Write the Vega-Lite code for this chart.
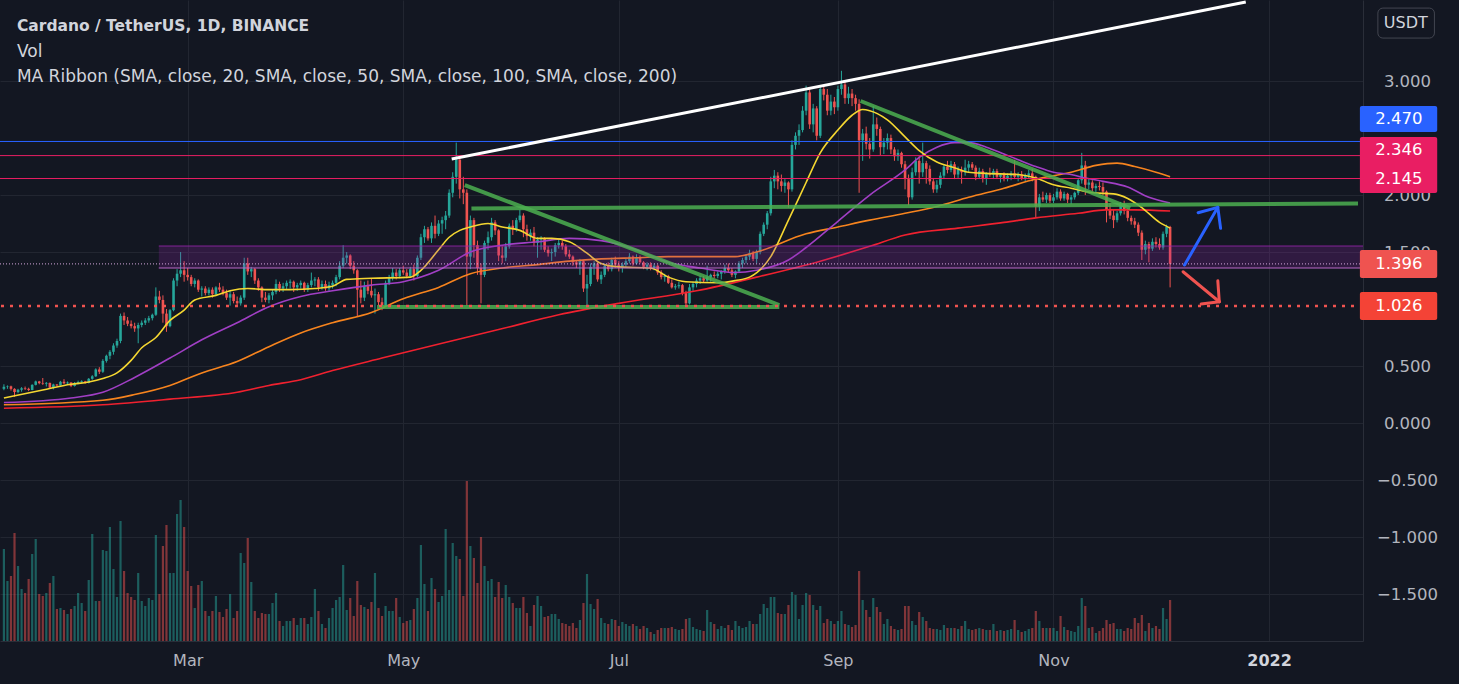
{
  "$schema": "https://vega.github.io/schema/vega-lite/v6.json",
  "width": 1363,
  "height": 641,
  "autosize": {"type": "none"},
  "padding": {"left": 0, "top": 0, "right": 96, "bottom": 43},
  "background": "#131722",
  "config": {"view": {"stroke": null}, "font": "DejaVu Sans"},
  "data": {
    "values": "d,o,h,l,c,v\n2021-01-08,.300,.340,.288,.318,1840\n2021-01-09,.318,.330,.300,.322,1200\n2021-01-10,.322,.328,.285,.300,1300\n2021-01-11,.300,.305,.230,.272,2160\n2021-01-12,.272,.300,.262,.292,1500\n2021-01-13,.292,.315,.275,.305,1040\n2021-01-14,.305,.320,.290,.300,960\n2021-01-15,.300,.310,.280,.290,1240\n2021-01-16,.290,.340,.288,.335,1740\n2021-01-17,.335,.372,.330,.365,2040\n2021-01-18,.365,.370,.340,.350,940\n2021-01-19,.350,.395,.335,.345,900\n2021-01-20,.345,.360,.320,.352,960\n2021-01-21,.352,.355,.300,.310,1160\n2021-01-22,.310,.345,.295,.338,1300\n2021-01-23,.338,.342,.322,.330,640\n2021-01-24,.330,.370,.328,.362,660\n2021-01-25,.362,.385,.340,.348,620\n2021-01-26,.348,.365,.335,.356,540\n2021-01-27,.356,.358,.315,.325,640\n2021-01-28,.325,.360,.320,.352,700\n2021-01-29,.352,.372,.340,.360,960\n2021-01-30,.360,.375,.350,.366,760\n2021-01-31,.366,.370,.345,.352,600\n2021-02-01,.352,.395,.348,.388,1220\n2021-02-02,.388,.420,.380,.410,2140\n2021-02-03,.410,.480,.405,.470,800\n2021-02-04,.470,.490,.430,.450,800\n2021-02-05,.450,.560,.440,.545,1820\n2021-02-06,.545,.600,.530,.590,1800\n2021-02-07,.590,.640,.560,.625,2280\n2021-02-08,.625,.700,.600,.680,1440\n2021-02-09,.680,.740,.660,.720,880\n2021-02-10,.720,.960,.700,.940,2400\n2021-02-11,.940,.970,.860,.900,1400\n2021-02-12,.900,.930,.850,.870,960\n2021-02-13,.870,.900,.830,.850,880\n2021-02-14,.850,.880,.800,.830,820\n2021-02-15,.830,.880,.700,.860,1360\n2021-02-16,.860,.900,.840,.880,800\n2021-02-17,.880,.920,.860,.900,700\n2021-02-18,.900,.940,.880,.920,860\n2021-02-19,.920,.960,.900,.950,820\n2021-02-20,.950,1.19,.940,1.11,2120\n2021-02-21,1.11,1.16,1.05,1.08,940\n2021-02-22,1.08,1.12,.880,.960,1900\n2021-02-23,.960,1.00,.800,.850,2320\n2021-02-24,.850,1.00,.840,.990,1360\n2021-02-25,.990,1.27,.980,1.25,1360\n2021-02-26,1.25,1.35,1.20,1.31,2540\n2021-02-27,1.31,1.50,1.28,1.34,2820\n2021-02-28,1.34,1.42,1.24,1.30,2280\n2021-03-01,1.30,1.36,1.25,1.28,1400\n2021-03-02,1.28,1.30,1.20,1.22,1100\n2021-03-03,1.22,1.27,1.19,1.25,660\n2021-03-04,1.25,1.26,1.15,1.17,1120\n2021-03-05,1.17,1.20,1.11,1.18,1200\n2021-03-06,1.18,1.20,1.12,1.14,600\n2021-03-07,1.14,1.19,1.12,1.17,500\n2021-03-08,1.17,1.19,1.10,1.13,600\n2021-03-09,1.13,1.20,1.12,1.19,900\n2021-03-10,1.19,1.23,1.15,1.17,580\n2021-03-11,1.17,1.20,1.12,1.14,480\n2021-03-12,1.14,1.17,1.08,1.10,640\n2021-03-13,1.10,1.16,1.03,1.13,940\n2021-03-14,1.13,1.15,1.05,1.07,460\n2021-03-15,1.07,1.11,1.03,1.05,600\n2021-03-16,1.05,1.12,1.03,1.10,1760\n2021-03-17,1.10,1.45,1.08,1.40,1560\n2021-03-18,1.40,1.45,1.30,1.33,2060\n2021-03-19,1.33,1.37,1.28,1.35,1180\n2021-03-20,1.35,1.36,1.22,1.25,600\n2021-03-21,1.25,1.27,1.16,1.19,460\n2021-03-22,1.19,1.20,1.06,1.10,560\n2021-03-23,1.10,1.15,1.06,1.08,540\n2021-03-24,1.08,1.14,1.05,1.12,540\n2021-03-25,1.12,1.17,1.08,1.15,760\n2021-03-26,1.15,1.26,1.13,1.22,960\n2021-03-27,1.22,1.24,1.15,1.18,400\n2021-03-28,1.18,1.23,1.15,1.20,300\n2021-03-29,1.20,1.25,1.17,1.23,400\n2021-03-30,1.23,1.26,1.18,1.24,400\n2021-03-31,1.24,1.25,1.15,1.19,460\n2021-04-01,1.19,1.23,1.16,1.21,320\n2021-04-02,1.21,1.25,1.18,1.23,460\n2021-04-03,1.23,1.24,1.15,1.17,460\n2021-04-04,1.17,1.23,1.15,1.21,340\n2021-04-05,1.21,1.32,1.19,1.25,480\n2021-04-06,1.25,1.28,1.20,1.26,1040\n2021-04-07,1.26,1.28,1.16,1.19,600\n2021-04-08,1.19,1.25,1.17,1.22,340\n2021-04-09,1.22,1.25,1.16,1.18,260\n2021-04-10,1.18,1.24,1.15,1.21,460\n2021-04-11,1.21,1.25,1.18,1.23,660\n2021-04-12,1.23,1.30,1.20,1.28,820\n2021-04-13,1.28,1.42,1.26,1.38,880\n2021-04-14,1.38,1.56,1.36,1.45,1520\n2021-04-15,1.45,1.50,1.40,1.47,620\n2021-04-16,1.47,1.48,1.35,1.38,860\n2021-04-17,1.38,1.42,1.31,1.34,500\n2021-04-18,1.34,1.35,.930,1.17,1200\n2021-04-19,1.17,1.25,1.05,1.10,720\n2021-04-20,1.10,1.24,1.07,1.20,680\n2021-04-21,1.20,1.25,1.13,1.16,640\n2021-04-22,1.16,1.27,1.10,1.12,780\n2021-04-23,1.12,1.18,.960,1.13,1360\n2021-04-24,1.13,1.15,1.03,1.06,660\n2021-04-25,1.06,1.10,.990,1.03,500\n2021-04-26,1.03,1.25,1.02,1.23,700\n2021-04-27,1.23,1.30,1.21,1.28,600\n2021-04-28,1.28,1.36,1.25,1.32,600\n2021-04-29,1.32,1.35,1.26,1.29,860\n2021-04-30,1.29,1.36,1.27,1.34,480\n2021-05-01,1.34,1.38,1.30,1.32,360\n2021-05-02,1.32,1.35,1.27,1.29,400\n2021-05-03,1.29,1.37,1.28,1.35,420\n2021-05-04,1.35,1.39,1.25,1.29,640\n2021-05-05,1.29,1.47,1.28,1.45,860\n2021-05-06,1.45,1.66,1.43,1.63,1920\n2021-05-07,1.63,1.73,1.58,1.70,1140\n2021-05-08,1.70,1.72,1.60,1.62,600\n2021-05-09,1.62,1.76,1.58,1.73,1260\n2021-05-10,1.73,1.82,1.62,1.66,1040\n2021-05-11,1.66,1.78,1.64,1.75,780\n2021-05-12,1.75,1.81,1.66,1.78,900\n2021-05-13,1.78,1.86,1.70,1.82,2240\n2021-05-14,1.82,2.05,1.80,2.02,1020\n2021-05-15,2.02,2.20,1.98,2.16,1960\n2021-05-16,2.16,2.46,2.10,2.31,1700\n2021-05-17,2.31,2.33,1.97,2.05,1640\n2021-05-18,2.05,2.16,1.92,2.02,900\n2021-05-19,2.02,2.05,1.03,1.46,3200\n2021-05-20,1.46,1.82,1.35,1.78,1900\n2021-05-21,1.78,1.80,1.45,1.56,1660\n2021-05-22,1.56,1.60,1.30,1.36,1160\n2021-05-23,1.36,1.40,1.05,1.30,2080\n2021-05-24,1.30,1.60,1.28,1.58,1500\n2021-05-25,1.58,1.68,1.52,1.63,1200\n2021-05-26,1.63,1.80,1.60,1.76,1240\n2021-05-27,1.76,1.78,1.65,1.69,880\n2021-05-28,1.69,1.70,1.42,1.47,1180\n2021-05-29,1.47,1.55,1.40,1.45,860\n2021-05-30,1.45,1.58,1.42,1.55,1120\n2021-05-31,1.55,1.75,1.53,1.73,880\n2021-06-01,1.73,1.78,1.65,1.70,760\n2021-06-02,1.70,1.80,1.68,1.78,660\n2021-06-03,1.78,1.87,1.76,1.82,660\n2021-06-04,1.82,1.84,1.63,1.70,880\n2021-06-05,1.70,1.74,1.60,1.64,560\n2021-06-06,1.64,1.70,1.60,1.67,300\n2021-06-07,1.67,1.72,1.55,1.58,720\n2021-06-08,1.58,1.63,1.45,1.61,900\n2021-06-09,1.61,1.64,1.52,1.62,700\n2021-06-10,1.62,1.63,1.50,1.52,480\n2021-06-11,1.52,1.55,1.46,1.49,500\n2021-06-12,1.49,1.53,1.42,1.50,540\n2021-06-13,1.50,1.58,1.46,1.56,540\n2021-06-14,1.56,1.61,1.53,1.58,440\n2021-06-15,1.58,1.60,1.52,1.55,360\n2021-06-16,1.55,1.57,1.46,1.48,340\n2021-06-17,1.48,1.52,1.44,1.46,300\n2021-06-18,1.46,1.47,1.38,1.41,360\n2021-06-19,1.41,1.43,1.36,1.39,260\n2021-06-20,1.39,1.44,1.30,1.42,420\n2021-06-21,1.42,1.43,1.15,1.18,760\n2021-06-22,1.18,1.30,1.01,1.22,1340\n2021-06-23,1.22,1.40,1.20,1.37,740\n2021-06-24,1.37,1.42,1.30,1.40,640\n2021-06-25,1.40,1.41,1.24,1.26,840\n2021-06-26,1.26,1.33,1.22,1.30,460\n2021-06-27,1.30,1.40,1.28,1.38,360\n2021-06-28,1.38,1.41,1.33,1.35,340\n2021-06-29,1.35,1.45,1.33,1.43,440\n2021-06-30,1.43,1.46,1.36,1.39,420\n2021-07-01,1.39,1.42,1.33,1.36,300\n2021-07-02,1.36,1.41,1.32,1.39,380\n2021-07-03,1.39,1.44,1.37,1.42,340\n2021-07-04,1.42,1.49,1.40,1.46,300\n2021-07-05,1.46,1.47,1.38,1.40,340\n2021-07-06,1.40,1.48,1.39,1.45,300\n2021-07-07,1.45,1.47,1.40,1.41,240\n2021-07-08,1.41,1.42,1.35,1.37,300\n2021-07-09,1.37,1.41,1.34,1.39,260\n2021-07-10,1.39,1.41,1.34,1.36,180\n2021-07-11,1.36,1.40,1.34,1.38,140\n2021-07-12,1.38,1.39,1.30,1.32,220\n2021-07-13,1.32,1.34,1.26,1.28,260\n2021-07-14,1.28,1.31,1.24,1.29,260\n2021-07-15,1.29,1.30,1.22,1.23,260\n2021-07-16,1.23,1.26,1.18,1.19,280\n2021-07-17,1.19,1.22,1.17,1.20,240\n2021-07-18,1.20,1.24,1.18,1.21,220\n2021-07-19,1.21,1.22,1.12,1.14,240\n2021-07-20,1.14,1.16,1.02,1.05,440\n2021-07-21,1.05,1.22,1.04,1.19,460\n2021-07-22,1.19,1.24,1.16,1.22,280\n2021-07-23,1.22,1.27,1.19,1.25,240\n2021-07-24,1.25,1.29,1.22,1.27,220\n2021-07-25,1.27,1.29,1.23,1.25,200\n2021-07-26,1.25,1.38,1.24,1.28,620\n2021-07-27,1.28,1.31,1.24,1.30,380\n2021-07-28,1.30,1.33,1.27,1.29,340\n2021-07-29,1.29,1.33,1.27,1.31,240\n2021-07-30,1.31,1.34,1.26,1.33,300\n2021-07-31,1.33,1.39,1.31,1.36,260\n2021-08-01,1.36,1.40,1.32,1.34,320\n2021-08-02,1.34,1.36,1.28,1.30,220\n2021-08-03,1.30,1.34,1.27,1.33,400\n2021-08-04,1.33,1.42,1.32,1.40,300\n2021-08-05,1.40,1.45,1.36,1.43,260\n2021-08-06,1.43,1.48,1.40,1.46,280\n2021-08-07,1.46,1.52,1.43,1.49,400\n2021-08-08,1.49,1.51,1.42,1.44,340\n2021-08-09,1.44,1.52,1.40,1.50,340\n2021-08-10,1.50,1.68,1.48,1.66,540\n2021-08-11,1.66,1.76,1.64,1.74,740\n2021-08-12,1.74,1.86,1.70,1.84,660\n2021-08-13,1.84,2.16,1.82,2.12,880\n2021-08-14,2.12,2.22,2.06,2.17,880\n2021-08-15,2.17,2.20,2.05,2.12,560\n2021-08-16,2.12,2.18,2.03,2.08,540\n2021-08-17,2.08,2.14,2.02,2.11,540\n2021-08-18,2.11,2.12,1.89,2.05,720\n2021-08-19,2.05,2.48,2.03,2.44,980\n2021-08-20,2.44,2.55,2.40,2.52,920\n2021-08-21,2.52,2.62,2.44,2.57,440\n2021-08-22,2.57,2.78,2.55,2.74,720\n2021-08-23,2.74,2.96,2.70,2.90,960\n2021-08-24,2.90,2.94,2.58,2.62,920\n2021-08-25,2.62,2.80,2.55,2.76,720\n2021-08-26,2.76,2.78,2.48,2.52,620\n2021-08-27,2.52,2.96,2.50,2.93,700\n2021-08-28,2.93,2.96,2.83,2.88,360\n2021-08-29,2.88,2.93,2.70,2.74,440\n2021-08-30,2.74,2.88,2.70,2.82,400\n2021-08-31,2.82,2.86,2.71,2.77,340\n2021-09-01,2.77,2.96,2.74,2.93,400\n2021-09-02,2.93,3.09,2.88,2.97,600\n2021-09-03,2.97,3.00,2.80,2.85,340\n2021-09-04,2.85,2.95,2.80,2.89,320\n2021-09-05,2.89,2.93,2.78,2.85,280\n2021-09-06,2.85,2.88,2.74,2.80,320\n2021-09-07,2.80,2.84,2.02,2.48,1400\n2021-09-08,2.48,2.58,2.30,2.54,820\n2021-09-09,2.54,2.60,2.40,2.45,620\n2021-09-10,2.45,2.50,2.32,2.40,480\n2021-09-11,2.40,2.78,2.38,2.62,860\n2021-09-12,2.62,2.68,2.52,2.58,680\n2021-09-13,2.58,2.60,2.35,2.42,580\n2021-09-14,2.42,2.50,2.36,2.46,340\n2021-09-15,2.46,2.54,2.40,2.50,440\n2021-09-16,2.50,2.53,2.36,2.40,300\n2021-09-17,2.40,2.42,2.30,2.34,240\n2021-09-18,2.34,2.40,2.30,2.37,220\n2021-09-19,2.37,2.38,2.24,2.27,240\n2021-09-20,2.27,2.30,2.05,2.14,700\n2021-09-21,2.14,2.18,1.91,1.98,700\n2021-09-22,1.98,2.24,1.96,2.20,400\n2021-09-23,2.20,2.33,2.17,2.30,320\n2021-09-24,2.30,2.34,2.10,2.20,580\n2021-09-25,2.20,2.46,2.16,2.28,480\n2021-09-26,2.28,2.30,2.10,2.23,400\n2021-09-27,2.23,2.26,2.09,2.12,260\n2021-09-28,2.12,2.15,2.02,2.05,240\n2021-09-29,2.05,2.13,2.02,2.09,240\n2021-09-30,2.09,2.20,2.06,2.17,220\n2021-10-01,2.17,2.27,2.14,2.25,320\n2021-10-02,2.25,2.30,2.19,2.22,260\n2021-10-03,2.22,2.30,2.20,2.27,260\n2021-10-04,2.27,2.29,2.14,2.18,260\n2021-10-05,2.18,2.25,2.15,2.22,240\n2021-10-06,2.22,2.25,2.10,2.20,300\n2021-10-07,2.20,2.31,2.17,2.24,400\n2021-10-08,2.24,2.30,2.20,2.27,240\n2021-10-09,2.27,2.29,2.22,2.24,220\n2021-10-10,2.24,2.26,2.13,2.16,240\n2021-10-11,2.16,2.24,2.14,2.21,260\n2021-10-12,2.21,2.23,2.11,2.15,240\n2021-10-13,2.15,2.20,2.09,2.19,220\n2021-10-14,2.19,2.24,2.16,2.18,220\n2021-10-15,2.18,2.23,2.14,2.21,340\n2021-10-16,2.21,2.23,2.14,2.16,200\n2021-10-17,2.16,2.19,2.11,2.18,220\n2021-10-18,2.18,2.20,2.12,2.14,200\n2021-10-19,2.14,2.19,2.12,2.17,220\n2021-10-20,2.17,2.21,2.13,2.19,240\n2021-10-21,2.19,2.31,2.14,2.16,420\n2021-10-22,2.16,2.20,2.12,2.18,220\n2021-10-23,2.18,2.21,2.13,2.15,180\n2021-10-24,2.15,2.19,2.12,2.17,200\n2021-10-25,2.17,2.22,2.14,2.19,240\n2021-10-26,2.19,2.23,2.12,2.16,260\n2021-10-27,2.16,2.17,1.80,1.90,600\n2021-10-28,1.90,2.01,1.86,1.98,400\n2021-10-29,1.98,2.03,1.94,1.96,260\n2021-10-30,1.96,2.02,1.93,2.00,260\n2021-10-31,2.00,2.02,1.93,1.95,260\n2021-11-01,1.95,2.01,1.93,1.98,260\n2021-11-02,1.98,2.06,1.96,2.03,200\n2021-11-03,2.03,2.05,1.95,1.97,500\n2021-11-04,1.97,2.03,1.95,2.01,280\n2021-11-05,2.01,2.02,1.93,1.96,220\n2021-11-06,1.96,2.00,1.92,1.98,200\n2021-11-07,1.98,2.03,1.96,2.02,180\n2021-11-08,2.02,2.15,2.00,2.13,300\n2021-11-09,2.13,2.37,2.10,2.26,860\n2021-11-10,2.26,2.30,2.00,2.09,700\n2021-11-11,2.09,2.14,2.05,2.11,260\n2021-11-12,2.11,2.13,2.03,2.06,280\n2021-11-13,2.06,2.10,2.02,2.08,160\n2021-11-14,2.08,2.12,2.04,2.07,200\n2021-11-15,2.07,2.11,2.00,2.03,260\n2021-11-16,2.03,2.04,1.76,1.87,420\n2021-11-17,1.87,1.93,1.79,1.82,340\n2021-11-18,1.82,1.87,1.71,1.78,360\n2021-11-19,1.78,1.86,1.76,1.84,240\n2021-11-20,1.84,1.94,1.82,1.92,240\n2021-11-21,1.92,1.95,1.83,1.86,200\n2021-11-22,1.86,1.88,1.77,1.80,260\n2021-11-23,1.80,1.82,1.74,1.77,240\n2021-11-24,1.77,1.80,1.71,1.74,460\n2021-11-25,1.74,1.76,1.64,1.67,360\n2021-11-26,1.67,1.69,1.43,1.52,520\n2021-11-27,1.52,1.60,1.48,1.57,200\n2021-11-28,1.57,1.59,1.41,1.53,360\n2021-11-29,1.53,1.62,1.51,1.59,260\n2021-11-30,1.59,1.63,1.54,1.57,300\n2021-12-01,1.57,1.62,1.52,1.54,240\n2021-12-02,1.54,1.68,1.52,1.66,660\n2021-12-03,1.66,1.74,1.63,1.72,440\n2021-12-04,1.72,1.73,1.19,1.396,820",
    "format": {"type": "csv", "parse": {"d": "date", "o": "number", "h": "number", "l": "number", "c": "number", "v": "number"}}
  },
  "layer": [
    {
      "mark": {"type": "bar", "width": 2.2, "opacity": 0.5},
      "encoding": {
        "x": {
          "field": "d", "type": "temporal",
          "scale": {"type": "utc", "domain": [{"year": 2021, "month": 1, "date": 8, "hours": 7, "minutes": 25, "utc": true}, {"year": 2022, "month": 1, "date": 26, "hours": 4, "minutes": 5, "utc": true}]},
          "axis": {
            "values": [{"year": 2021, "month": 3, "date": 1, "utc": true}, {"year": 2021, "month": 5, "date": 1, "utc": true}, {"year": 2021, "month": 7, "date": 1, "utc": true}, {"year": 2021, "month": 9, "date": 1, "utc": true}, {"year": 2021, "month": 11, "date": 1, "utc": true}, {"year": 2022, "month": 1, "date": 1, "utc": true}],
            "labelExpr": "utcmonth(datum.value) == 0 ? utcFormat(datum.value, '%Y') : utcFormat(datum.value, '%b')",
            "title": null, "ticks": false, "tickSize": 0, "labelPadding": 11,
            "labelFontSize": 16,
            "labelColor": {"condition": {"test": "utcmonth(datum.value) == 0", "value": "#d1d4dc"}, "value": "#b2b5be"},
            "labelFontWeight": {"condition": {"test": "utcmonth(datum.value) == 0", "value": "bold"}, "value": "normal"},
            "labelFlush": false, "labelOverlap": false,
            "grid": true, "gridColor": "#222631", "domainColor": "#2a2e39"
          }
        },
        "y": {"field": "v", "type": "quantitative", "scale": {"domain": [0, 12820], "nice": false}, "axis": null},
        "color": {"condition": {"test": "datum.c >= datum.o", "value": "#26a69a"}, "value": "#ef5350"}
      }
    },
    {
      "layer": [
        {
          "mark": {"type": "rule", "strokeWidth": 1},
          "encoding": {
            "x": {"field": "d", "type": "temporal"},
            "y": {
              "field": "l", "type": "quantitative",
              "scale": {"domain": [-1.912, 3.711], "nice": false, "zero": false},
              "axis": {
                "orient": "right", "values": [-1.5, -1, -0.5, 0, 0.5, 1.5, 2, 3],
                "format": ".3f", "title": null, "ticks": false, "tickSize": 0,
                "labelAlign": "center", "labelBaseline": "middle", "labelPadding": 44,
                "labelFontSize": 16.5, "labelColor": "#b2b5be",
                "labelFlush": false, "labelOverlap": false,
                "grid": true, "gridColor": "#222631", "domainColor": "#2a2e39"
              }
            },
            "y2": {"field": "h"},
            "color": {"condition": {"test": "datum.c >= datum.o", "value": "#26a69a"}, "value": "#ef5350"}
          }
        },
        {
          "mark": {"type": "bar", "width": 2.6},
          "encoding": {
            "x": {"field": "d", "type": "temporal"},
            "y": {"field": "o", "type": "quantitative"},
            "y2": {"field": "c"},
            "color": {"condition": {"test": "datum.c >= datum.o", "value": "#26a69a"}, "value": "#ef5350"}
          }
        },
        {
          "data": {
            "values": "s,d,p\nMA200,2021-01-08,0.13\nMA200,2021-02-05,0.16\nMA200,2021-02-24,0.21\nMA200,2021-03-15,0.27\nMA200,2021-03-24,0.33\nMA200,2021-04-02,0.38\nMA200,2021-04-11,0.46\nMA200,2021-04-25,0.57\nMA200,2021-05-12,0.70\nMA200,2021-05-28,0.82\nMA200,2021-06-14,0.95\nMA200,2021-07-01,1.05\nMA200,2021-07-23,1.16\nMA200,2021-08-09,1.28\nMA200,2021-08-27,1.42\nMA200,2021-09-10,1.55\nMA200,2021-09-20,1.65\nMA200,2021-10-05,1.71\nMA200,2021-10-18,1.76\nMA200,2021-10-27,1.80\nMA200,2021-11-08,1.84\nMA200,2021-11-16,1.87\nMA200,2021-11-24,1.87\nMA200,2021-12-04,1.86\nMA100,2021-01-08,0.16\nMA100,2021-02-05,0.20\nMA100,2021-02-14,0.25\nMA100,2021-02-24,0.33\nMA100,2021-03-05,0.44\nMA100,2021-03-15,0.54\nMA100,2021-03-24,0.67\nMA100,2021-04-02,0.79\nMA100,2021-04-11,0.88\nMA100,2021-04-22,0.97\nMA100,2021-05-01,1.09\nMA100,2021-05-11,1.19\nMA100,2021-05-20,1.31\nMA100,2021-05-29,1.36\nMA100,2021-06-08,1.39\nMA100,2021-06-17,1.42\nMA100,2021-06-26,1.44\nMA100,2021-07-06,1.45\nMA100,2021-07-15,1.46\nMA100,2021-08-03,1.46\nMA100,2021-08-09,1.50\nMA100,2021-08-23,1.66\nMA100,2021-09-01,1.72\nMA100,2021-09-10,1.78\nMA100,2021-09-20,1.84\nMA100,2021-09-29,1.90\nMA100,2021-10-08,1.98\nMA100,2021-10-18,2.06\nMA100,2021-10-27,2.14\nMA100,2021-11-06,2.20\nMA100,2021-11-13,2.26\nMA100,2021-11-19,2.28\nMA100,2021-11-24,2.25\nMA100,2021-11-30,2.20\nMA100,2021-12-04,2.16\nMA50,2021-01-08,0.18\nMA50,2021-01-27,0.22\nMA50,2021-02-05,0.27\nMA50,2021-02-14,0.40\nMA50,2021-02-24,0.57\nMA50,2021-03-05,0.73\nMA50,2021-03-15,0.88\nMA50,2021-03-24,1.02\nMA50,2021-04-02,1.11\nMA50,2021-04-11,1.16\nMA50,2021-04-22,1.21\nMA50,2021-05-01,1.24\nMA50,2021-05-11,1.34\nMA50,2021-05-20,1.50\nMA50,2021-05-29,1.56\nMA50,2021-06-08,1.59\nMA50,2021-06-17,1.62\nMA50,2021-06-26,1.60\nMA50,2021-07-06,1.52\nMA50,2021-07-15,1.41\nMA50,2021-07-24,1.36\nMA50,2021-08-03,1.32\nMA50,2021-08-09,1.34\nMA50,2021-08-18,1.43\nMA50,2021-08-23,1.54\nMA50,2021-09-01,1.77\nMA50,2021-09-10,2.00\nMA50,2021-09-20,2.22\nMA50,2021-09-24,2.33\nMA50,2021-09-29,2.42\nMA50,2021-10-04,2.46\nMA50,2021-10-08,2.46\nMA50,2021-10-13,2.42\nMA50,2021-10-18,2.36\nMA50,2021-10-22,2.31\nMA50,2021-10-27,2.25\nMA50,2021-11-01,2.20\nMA50,2021-11-06,2.18\nMA50,2021-11-10,2.15\nMA50,2021-11-15,2.12\nMA50,2021-11-22,2.07\nMA50,2021-11-28,1.98\nMA50,2021-12-04,1.93\nMA20,2021-01-08,0.22\nMA20,2021-01-19,0.29\nMA20,2021-01-27,0.34\nMA20,2021-02-01,0.36\nMA20,2021-02-05,0.39\nMA20,2021-02-09,0.44\nMA20,2021-02-13,0.55\nMA20,2021-02-16,0.66\nMA20,2021-02-20,0.75\nMA20,2021-02-24,0.90\nMA20,2021-02-28,0.99\nMA20,2021-03-03,1.08\nMA20,2021-03-09,1.12\nMA20,2021-03-13,1.16\nMA20,2021-03-18,1.18\nMA20,2021-03-24,1.17\nMA20,2021-03-30,1.17\nMA20,2021-04-06,1.18\nMA20,2021-04-11,1.20\nMA20,2021-04-15,1.26\nMA20,2021-04-22,1.27\nMA20,2021-05-03,1.28\nMA20,2021-05-06,1.34\nMA20,2021-05-11,1.52\nMA20,2021-05-14,1.63\nMA20,2021-05-17,1.69\nMA20,2021-05-20,1.72\nMA20,2021-05-25,1.75\nMA20,2021-05-29,1.72\nMA20,2021-06-03,1.69\nMA20,2021-06-08,1.62\nMA20,2021-06-12,1.62\nMA20,2021-06-17,1.59\nMA20,2021-06-22,1.49\nMA20,2021-06-26,1.40\nMA20,2021-07-01,1.37\nMA20,2021-07-10,1.36\nMA20,2021-07-15,1.28\nMA20,2021-07-20,1.24\nMA20,2021-07-29,1.23\nMA20,2021-08-03,1.25\nMA20,2021-08-07,1.28\nMA20,2021-08-13,1.46\nMA20,2021-08-18,1.78\nMA20,2021-08-23,2.11\nMA20,2021-08-27,2.37\nMA20,2021-09-01,2.57\nMA20,2021-09-05,2.70\nMA20,2021-09-08,2.75\nMA20,2021-09-10,2.74\nMA20,2021-09-15,2.66\nMA20,2021-09-20,2.51\nMA20,2021-09-24,2.39\nMA20,2021-09-29,2.29\nMA20,2021-10-04,2.24\nMA20,2021-10-08,2.20\nMA20,2021-10-13,2.19\nMA20,2021-10-22,2.18\nMA20,2021-10-27,2.15\nMA20,2021-11-01,2.09\nMA20,2021-11-06,2.06\nMA20,2021-11-12,2.02\nMA20,2021-11-18,2.01\nMA20,2021-11-22,1.97\nMA20,2021-11-26,1.89\nMA20,2021-12-01,1.76\nMA20,2021-12-04,1.71",
            "format": {"type": "csv", "parse": {"d": "date", "p": "number"}}
          },
          "mark": {"type": "line", "strokeWidth": 1.6, "interpolate": "monotone"},
          "encoding": {
            "x": {"field": "d", "type": "temporal"},
            "y": {"field": "p", "type": "quantitative"},
            "stroke": {"field": "s", "type": "nominal", "scale": {"domain": ["MA200", "MA100", "MA50", "MA20"], "range": ["#f0212f", "#f7841e", "#a13fc5", "#f5d731"]}, "legend": null}
          }
        },
        {
          "data": {"values": [{}]},
          "mark": {"type": "rect", "color": "#9c27b0", "opacity": 0.22, "clip": true},
          "encoding": {
            "x": {"datum": {"year": 2021, "month": 2, "date": 20, "hours": 20, "utc": true}},
            "x2": {"datum": {"year": 2022, "month": 3, "date": 1, "utc": true}},
            "y": {"datum": 1.36},
            "y2": {"datum": 1.553}
          }
        },
        {
          "data": {"values": [{}]},
          "mark": {"type": "rule", "color": "#9c27b0", "strokeWidth": 1, "opacity": 0.8, "clip": true},
          "encoding": {
            "x": {"datum": {"year": 2021, "month": 2, "date": 20, "hours": 20, "utc": true}},
            "x2": {"datum": {"year": 2022, "month": 3, "date": 1, "utc": true}},
            "y": {"datum": 1.553}
          }
        },
        {
          "data": {"values": [{}]},
          "mark": {"type": "rule", "color": "#ba68c8", "strokeWidth": 1, "clip": true},
          "encoding": {
            "x": {"datum": {"year": 2021, "month": 2, "date": 20, "hours": 20, "utc": true}},
            "x2": {"datum": {"year": 2022, "month": 3, "date": 1, "utc": true}},
            "y": {"datum": 1.36}
          }
        },
        {
          "data": {"values": [{}]},
          "mark": {"type": "rule", "color": "#2962ff", "strokeWidth": 1},
          "encoding": {"y": {"datum": 2.47}}
        },
        {
          "data": {"values": [{}]},
          "mark": {"type": "rule", "color": "#e91e63", "strokeWidth": 1},
          "encoding": {"y": {"datum": 2.346}}
        },
        {
          "data": {"values": [{}]},
          "mark": {"type": "rule", "color": "#e91e63", "strokeWidth": 1},
          "encoding": {"y": {"datum": 2.145}}
        },
        {
          "data": {"values": [{}]},
          "mark": {"type": "rule", "color": "#d4a6dc", "strokeWidth": 1, "strokeDash": [1, 2]},
          "encoding": {"y": {"datum": 1.396}}
        },
        {
          "data": {"values": [
            {"id": "a", "d": "2021-05-18T10:00:00Z", "p": 2.088},
            {"id": "a", "d": "2021-08-15T10:00:00Z", "p": 1.035},
            {"id": "b", "d": "2021-04-23T14:00:00Z", "p": 1.018},
            {"id": "b", "d": "2021-08-15T10:00:00Z", "p": 1.018},
            {"id": "c", "d": "2021-05-20T07:00:00Z", "p": 1.882},
            {"id": "c", "d": "2022-01-26T04:00:00Z", "p": 1.925},
            {"id": "e", "d": "2021-09-07T10:00:00Z", "p": 2.825},
            {"id": "e", "d": "2021-11-22T17:00:00Z", "p": 1.886}
          ]},
          "mark": {"type": "line", "color": "#4caf50", "strokeWidth": 4, "opacity": 0.85},
          "encoding": {
            "x": {"field": "d", "type": "temporal"},
            "y": {"field": "p", "type": "quantitative"},
            "detail": {"field": "id"}
          }
        },
        {
          "data": {"values": [{}]},
          "mark": {"type": "rule", "color": "#f05350", "strokeWidth": 2.5, "strokeDash": [3, 6]},
          "encoding": {"y": {"datum": 1.026}}
        },
        {
          "data": {"values": [
            {"d": "2021-05-14T17:00:00Z", "p": 2.316},
            {"d": "2021-12-25T10:00:00Z", "p": 3.693}
          ]},
          "mark": {"type": "line", "color": "#ffffff", "strokeWidth": 3},
          "encoding": {
            "x": {"field": "d", "type": "temporal"},
            "y": {"field": "p", "type": "quantitative"}
          }
        },
        {
          "data": {"values": [
            {"id": "s", "d": "2021-12-08T02:00:00Z", "p": 1.386},
            {"id": "s", "d": "2021-12-17T12:00:00Z", "p": 1.892},
            {"id": "h", "d": "2021-12-11T22:00:00Z", "p": 1.845},
            {"id": "h", "d": "2021-12-17T12:00:00Z", "p": 1.892},
            {"id": "h", "d": "2021-12-18T07:00:00Z", "p": 1.708}
          ]},
          "mark": {"type": "line", "color": "#2962ff", "strokeWidth": 3, "strokeCap": "round", "strokeJoin": "round"},
          "encoding": {
            "x": {"field": "d", "type": "temporal"},
            "y": {"field": "p", "type": "quantitative"},
            "detail": {"field": "id"}
          }
        },
        {
          "data": {"values": [
            {"id": "s", "d": "2021-12-07T16:00:00Z", "p": 1.327},
            {"id": "s", "d": "2021-12-17T22:00:00Z", "p": 1.064},
            {"id": "h1", "d": "2021-12-12T19:00:00Z", "p": 1.044},
            {"id": "h1", "d": "2021-12-17T22:00:00Z", "p": 1.064},
            {"id": "h2", "d": "2021-12-17T12:00:00Z", "p": 1.248},
            {"id": "h2", "d": "2021-12-17T22:00:00Z", "p": 1.064}
          ]},
          "mark": {"type": "line", "color": "#f05350", "strokeWidth": 3, "strokeCap": "round", "strokeJoin": "round"},
          "encoding": {
            "x": {"field": "d", "type": "temporal"},
            "y": {"field": "p", "type": "quantitative"},
            "detail": {"field": "id"}
          }
        },
        {
          "data": {"values": [{}]},
          "mark": {"type": "rect", "color": "#2962ff", "cornerRadius": 2},
          "encoding": {
            "x": {"datum": {"year": 2022, "month": 1, "date": 26, "hours": 17, "utc": true}},
            "x2": {"datum": {"year": 2022, "month": 2, "date": 17, "hours": 14, "utc": true}},
            "y": {"datum": 2.553}, "y2": {"datum": 2.781}
          }
        },
        {
          "data": {"values": [{}]},
          "mark": {"type": "rect", "color": "#e91e63", "cornerRadius": 2},
          "encoding": {
            "x": {"datum": {"year": 2022, "month": 1, "date": 26, "hours": 17, "utc": true}},
            "x2": {"datum": {"year": 2022, "month": 2, "date": 17, "hours": 14, "utc": true}},
            "y": {"datum": 2.018}, "y2": {"datum": 2.509}
          }
        },
        {
          "data": {"values": [{}]},
          "mark": {"type": "rect", "color": "#ef5350", "cornerRadius": 2},
          "encoding": {
            "x": {"datum": {"year": 2022, "month": 1, "date": 26, "hours": 17, "utc": true}},
            "x2": {"datum": {"year": 2022, "month": 2, "date": 17, "hours": 14, "utc": true}},
            "y": {"datum": 1.272}, "y2": {"datum": 1.518}
          }
        },
        {
          "data": {"values": [{}]},
          "mark": {"type": "rect", "color": "#f44336", "cornerRadius": 2},
          "encoding": {
            "x": {"datum": {"year": 2022, "month": 1, "date": 26, "hours": 17, "utc": true}},
            "x2": {"datum": {"year": 2022, "month": 2, "date": 17, "hours": 14, "utc": true}},
            "y": {"datum": 0.904}, "y2": {"datum": 1.149}
          }
        },
        {
          "data": {"values": [{}]},
          "mark": {"type": "text", "text": "2.470", "color": "#ffffff", "fontSize": 16.5, "align": "center", "baseline": "middle"},
          "encoding": {"x": {"datum": {"year": 2022, "month": 2, "date": 6, "hours": 17, "utc": true}}, "y": {"datum": 2.667}}
        },
        {
          "data": {"values": [{}]},
          "mark": {"type": "text", "text": "2.346", "color": "#ffffff", "fontSize": 16.5, "align": "center", "baseline": "middle"},
          "encoding": {"x": {"datum": {"year": 2022, "month": 2, "date": 6, "hours": 17, "utc": true}}, "y": {"datum": 2.395}}
        },
        {
          "data": {"values": [{}]},
          "mark": {"type": "text", "text": "2.145", "color": "#ffffff", "fontSize": 16.5, "align": "center", "baseline": "middle"},
          "encoding": {"x": {"datum": {"year": 2022, "month": 2, "date": 6, "hours": 17, "utc": true}}, "y": {"datum": 2.14}}
        },
        {
          "data": {"values": [{}]},
          "mark": {"type": "text", "text": "1.396", "color": "#ffffff", "fontSize": 16.5, "align": "center", "baseline": "middle"},
          "encoding": {"x": {"datum": {"year": 2022, "month": 2, "date": 6, "hours": 17, "utc": true}}, "y": {"datum": 1.395}}
        },
        {
          "data": {"values": [{}]},
          "mark": {"type": "text", "text": "1.026", "color": "#ffffff", "fontSize": 16.5, "align": "center", "baseline": "middle"},
          "encoding": {"x": {"datum": {"year": 2022, "month": 2, "date": 6, "hours": 17, "utc": true}}, "y": {"datum": 1.026}}
        },
        {
          "data": {"values": [{}]},
          "mark": {"type": "rect", "fill": "#131722", "stroke": "#434651", "strokeWidth": 1, "cornerRadius": 5},
          "encoding": {
            "x": {"datum": {"year": 2022, "month": 1, "date": 31, "hours": 19, "utc": true}},
            "x2": {"datum": {"year": 2022, "month": 2, "date": 16, "hours": 19, "utc": true}},
            "y": {"datum": 3.377}, "y2": {"datum": 3.64}
          }
        },
        {
          "data": {"values": [{}]},
          "mark": {"type": "text", "text": "USDT", "color": "#d1d4dc", "fontSize": 16, "align": "center", "baseline": "middle"},
          "encoding": {"x": {"datum": {"year": 2022, "month": 2, "date": 8, "hours": 17, "utc": true}}, "y": {"datum": 3.509}}
        },
        {
          "data": {"values": [{}]},
          "mark": {"type": "text", "text": "Cardano / TetherUS, 1D, BINANCE", "color": "#d1d4dc", "fontSize": 15.5, "fontWeight": "bold", "align": "left", "baseline": "middle"},
          "encoding": {"x": {"datum": {"year": 2021, "month": 1, "date": 11, "hours": 16, "minutes": 20, "utc": true}}, "y": {"datum": 3.482}}
        },
        {
          "data": {"values": [{}]},
          "mark": {"type": "text", "text": "Vol", "color": "#d1d4dc", "fontSize": 17, "align": "left", "baseline": "middle"},
          "encoding": {"x": {"datum": {"year": 2021, "month": 1, "date": 11, "hours": 16, "minutes": 20, "utc": true}}, "y": {"datum": 3.254}}
        },
        {
          "data": {"values": [{}]},
          "mark": {"type": "text", "text": "MA Ribbon (SMA, close, 20, SMA, close, 50, SMA, close, 100, SMA, close, 200)", "color": "#d1d4dc", "fontSize": 17, "align": "left", "baseline": "middle"},
          "encoding": {"x": {"datum": {"year": 2021, "month": 1, "date": 11, "hours": 16, "minutes": 20, "utc": true}}, "y": {"datum": 3.035}}
        }
      ]
    }
  ],
  "resolve": {"scale": {"y": "independent"}}
}
